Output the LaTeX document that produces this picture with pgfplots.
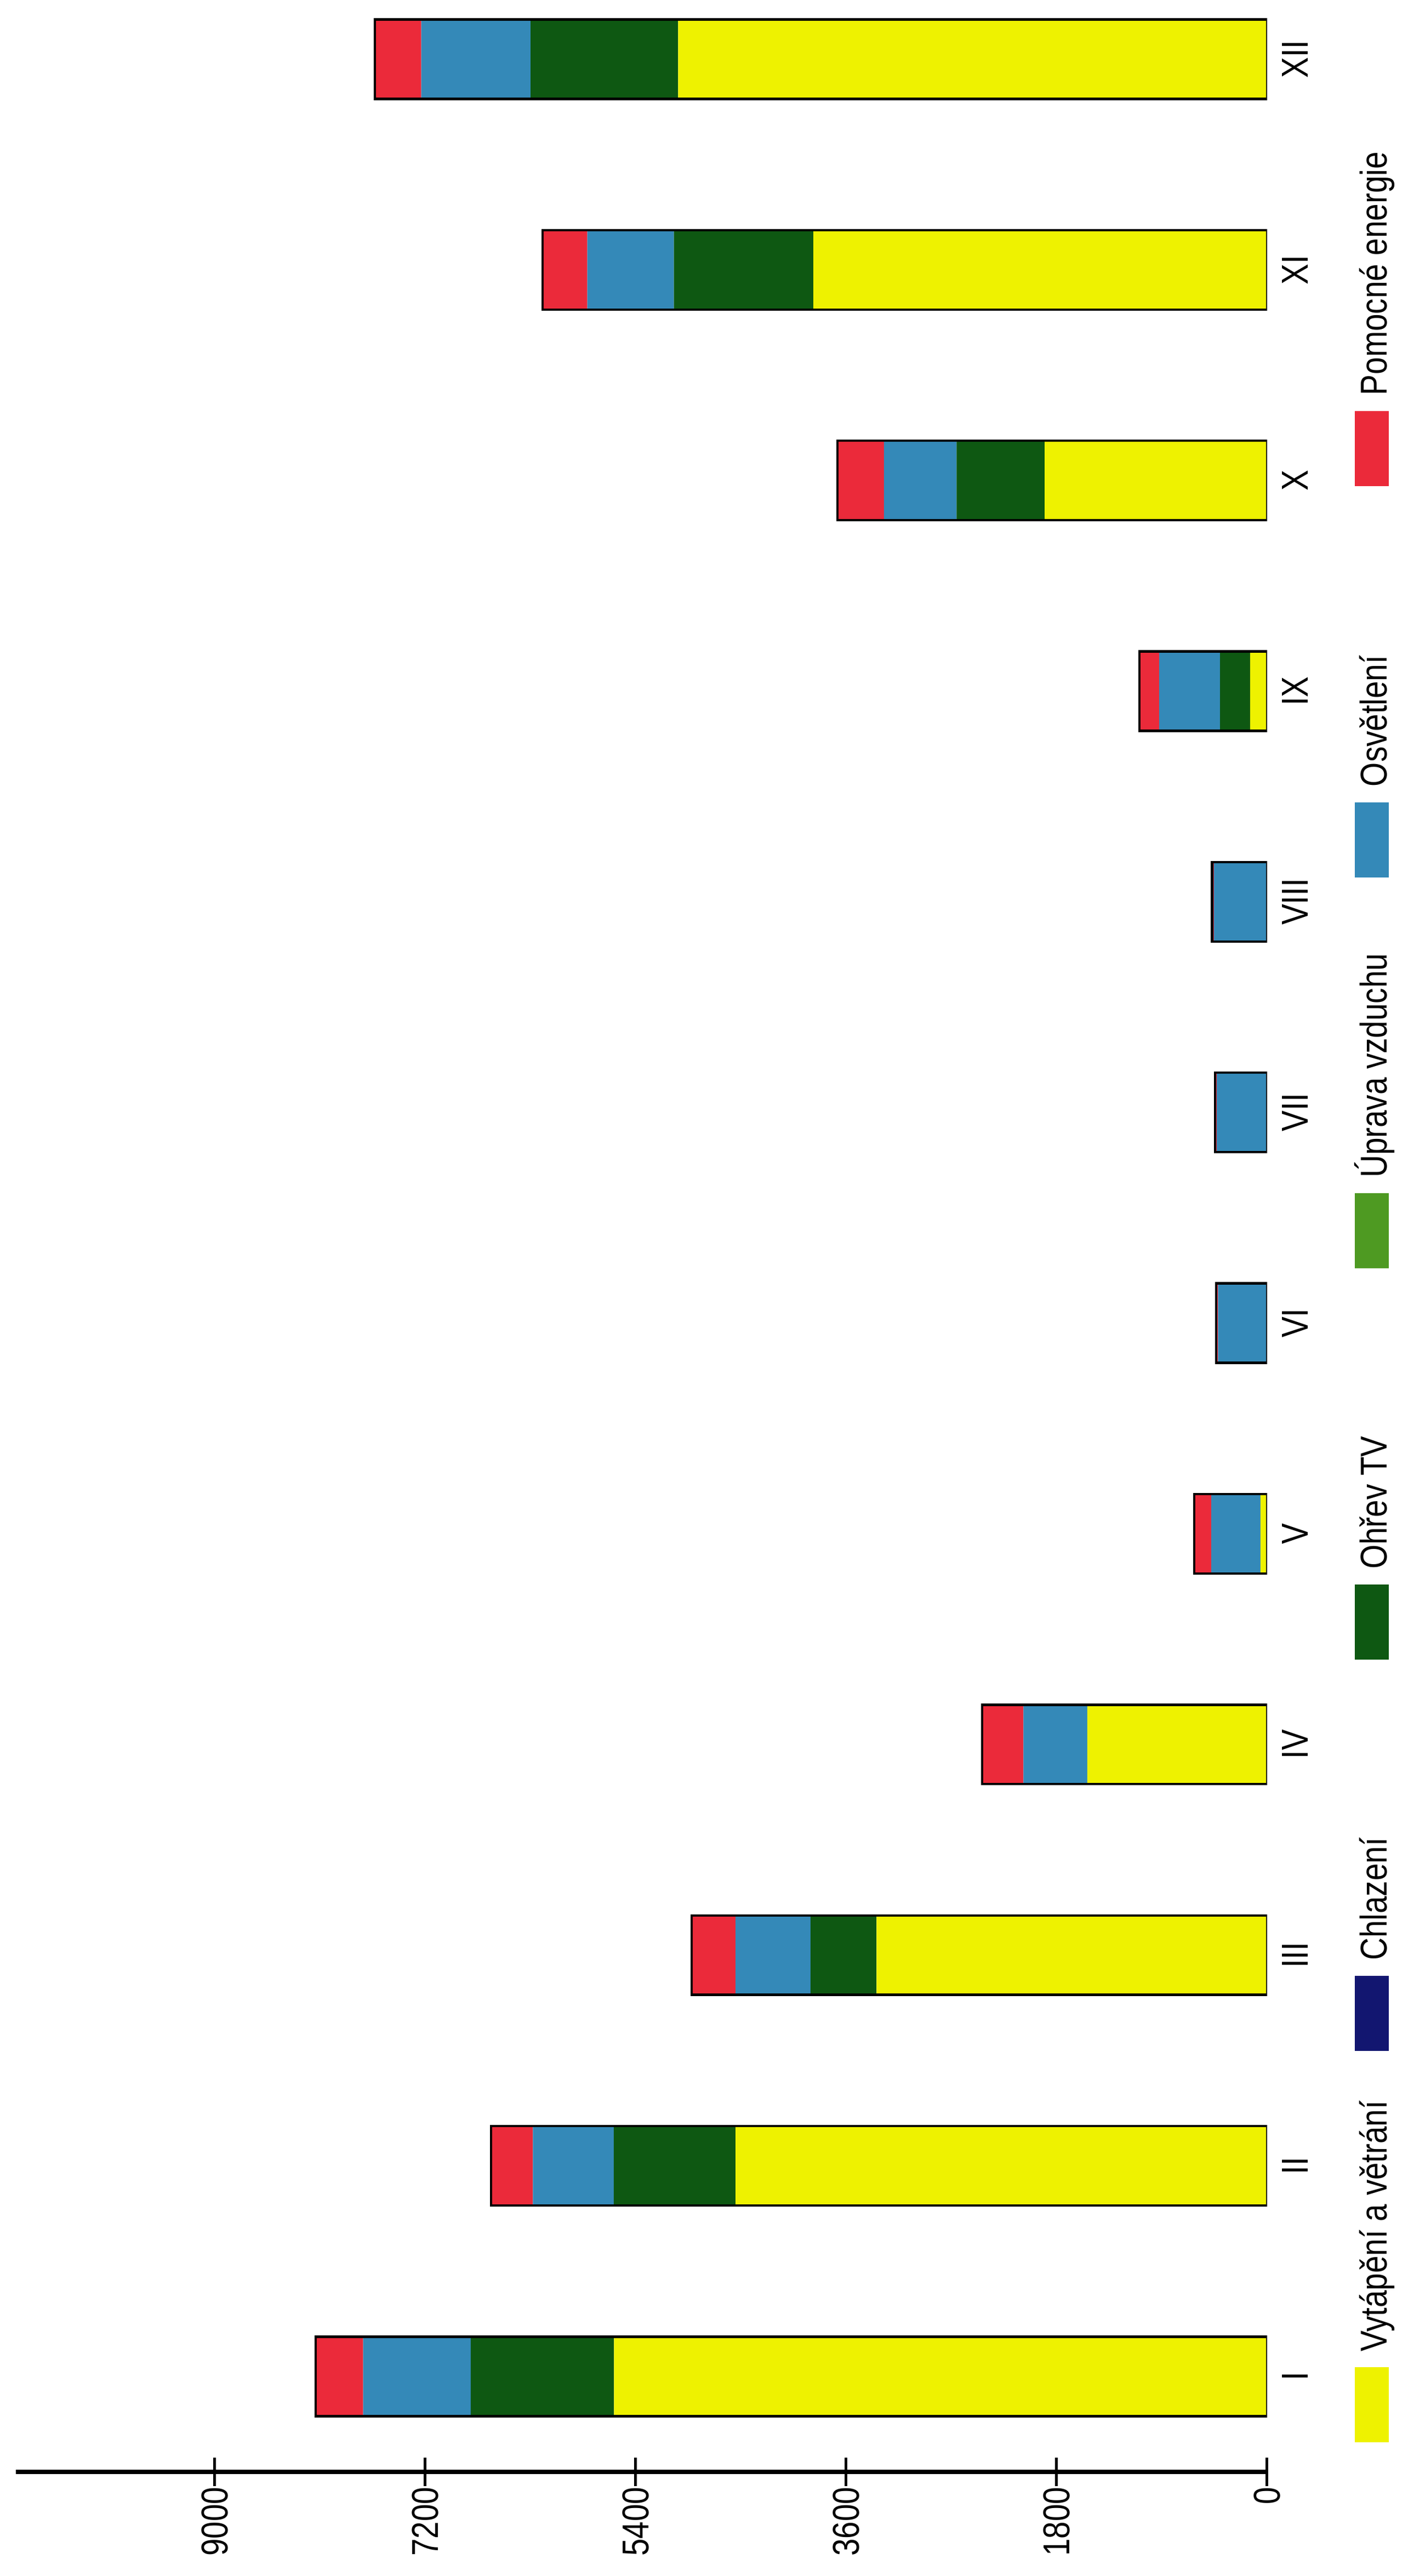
\documentclass[border=0pt]{standalone}
\usepackage{pgfplots}
\pgfplotsset{compat=1.18}
\usepackage{fontspec}
\setmainfont{Liberation Sans}[FakeStretch=0.83]
\definecolor{cY}{RGB}{238,242,0}
\definecolor{cCh}{RGB}{18,22,112}
\definecolor{cOh}{RGB}{14,88,18}
\definecolor{cUp}{RGB}{78,154,34}
\definecolor{cOs}{RGB}{52,137,184}
\definecolor{cPo}{RGB}{235,42,58}
\newcommand{\lgt}[1]{\makebox[0pt][r]{\raisebox{87.325pt}[119.85pt][0pt]{\rotatebox{90}{\raisebox{0pt}[9pt][2.5pt]{#1}}}\hspace*{-1.38pt}}}
\pgfplotsset{
  base/.style={
    scale only axis, width=388.1pt, height=766.7pt,
    xmin=0, xmax=10700, ymin=0.547, ymax=12.281, x dir=reverse,
    bar width=0.377,
  },
  lg/.style={legend image code/.code={\fill[##1] (0pt,0pt) rectangle (10.54pt,23.3pt);}},
}
\begin{document}
\begin{tikzpicture}[font=\fontsize{11.6}{14}\selectfont]
\begin{axis}[base, xbar stacked,
  axis x line*=bottom, axis y line*=right,
  x axis line style={-, line width=1.2pt, black},
  y axis line style={draw=none},
  xtick={0,1800,3600,5400,7200,9000},
  scaled x ticks=false,
  /pgf/number format/assume math mode=true,
  /pgf/number format/1000 sep={},
  xticklabel style={rotate=90, anchor=east, inner sep=0pt},
  x tick style={line width=0.85pt, black},
  major tick length=9pt, tick align=center,
  ytick={1,2,3,4,5,6,7,8,9,10,11,12},
  yticklabels={I,II,III,IV,V,VI,VII,VIII,IX,X,XI,XII},
  y tick style={draw=none},
  yticklabel style={rotate=90, anchor=north, inner sep=0pt},
  legend columns=1, reverse legend,
  legend style={at={(axis cs:-746,-0.244)}, anchor=south west,
    draw=none, fill=none, inner sep=0pt, column sep=0pt, row sep=0pt,
    nodes={inner sep=0pt}},
]
\addplot+[lg, fill=cY, draw=none] coordinates {
(5585,1) (4545,2) (3340,3) (1538,4) (57,5) (0,6) (0,7) (0,8) (144,9) (1902,10) (3880,11) (5036,12)};
\addlegendentry{\lgt{Vytápění a větrání}}
\addplot+[lg, fill=cCh, draw=none] coordinates {
(0,1) (0,2) (0,3) (0,4) (0,5) (0,6) (0,7) (0,8) (0,9) (0,10) (0,11) (0,12)};
\addlegendentry{\lgt{Chlazení}}
\addplot+[lg, fill=cOh, draw=none] coordinates {
(1225,1) (1042,2) (565,3) (0,4) (0,5) (0,6) (0,7) (0,8) (258,9) (754,10) (1193,11) (1262,12)};
\addlegendentry{\lgt{Ohřev TV}}
\addplot+[lg, fill=cUp, draw=none] coordinates {
(0,1) (0,2) (0,3) (0,4) (0,5) (0,6) (0,7) (0,8) (0,9) (0,10) (0,11) (0,12)};
\addlegendentry{\lgt{Úprava vzduchu}}
\addplot+[lg, fill=cOs, draw=none] coordinates {
(920,1) (691,2) (640,3) (546,4) (420,5) (420,6) (430,7) (455,8) (521,9) (621,10) (740,11) (935,12)};
\addlegendentry{\lgt{Osvětlení}}
\addplot+[lg, fill=cPo, draw=none] coordinates {
(405,1) (358,2) (377,3) (352,4) (145,5) (15,6) (16,7) (16,8) (169,9) (396,10) (383,11) (396,12)};
\addlegendentry{\lgt{Pomocné energie}}
\coordinate (TL) at (axis cs:10700,12.281);
\coordinate (BR) at (axis cs:0,0.547);
\end{axis}
\begin{axis}[base, xbar, bar shift=0pt, hide axis]
\addplot[draw=black, fill=none, line width=0.75pt] coordinates {
(8135,1) (6636,2) (4922,3) (2436,4) (622,5) (435,6) (446,7) (471,8) (1092,9) (3673,10) (6196,11) (7629,12)};
\end{axis}
\pgfresetboundingbox
\path[use as bounding box] ([xshift=-4.93pt]TL) rectangle ([xshift=45.4pt,yshift=-32.3pt]BR);
\end{tikzpicture}
\end{document}
